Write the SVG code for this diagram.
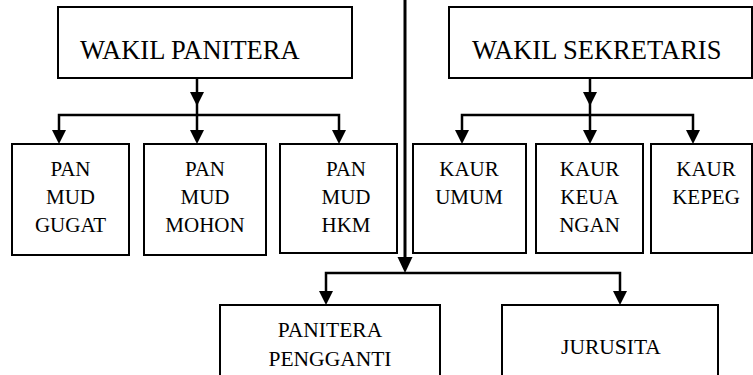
<svg xmlns="http://www.w3.org/2000/svg" xmlns:xlink="http://www.w3.org/1999/xlink" width="753" height="375" viewBox="0 0 753 375">
<style>
.box{fill:#fff;stroke:#000;stroke-width:2}
text{font-family:'Liberation Serif','Times New Roman',Times,serif;fill:#000;text-anchor:middle}
.big{font-size:26.5px;text-anchor:start}
.mid{font-size:21px}
.bot{font-size:21.5px}
.ln{fill:none;stroke:#000;stroke-width:2.5}
</style>
<defs>
<path id="ah" d="M-7,-14 L7,-14 L0,0 Z" fill="#000"/>
<path id="ahb" d="M-7.5,-16 L7.5,-16 L0,0 Z" fill="#000"/>
</defs>
<rect width="753" height="375" fill="#fff"/>
<g id="connectors">
<path class="ln" d="M197,78 V132"/>
<path class="ln" d="M59,132 V115 H339 V132"/>
<path class="ln" d="M590,78 V132"/>
<path class="ln" d="M462,132 V115 H693 V132"/>
<path class="ln" style="stroke-width:3" d="M405,0 V262"/>
<path class="ln" d="M326,294 V273 H620 V294"/>
<use xlink:href="#ah" x="197" y="106"/>
<use xlink:href="#ah" x="59" y="144"/>
<use xlink:href="#ah" x="197" y="144"/>
<use xlink:href="#ah" x="339" y="144"/>
<use xlink:href="#ah" x="590" y="106"/>
<use xlink:href="#ah" x="462" y="144"/>
<use xlink:href="#ah" x="590" y="144"/>
<use xlink:href="#ah" x="693" y="144"/>
<use xlink:href="#ahb" x="405" y="273"/>
<use xlink:href="#ah" x="326" y="305"/>
<use xlink:href="#ah" x="620" y="305"/>
</g>
<g id="wakil-panitera">
<rect class="box" x="58" y="7" width="294" height="71"/>
<text class="big" x="80" y="59">WAKIL PANITERA</text>
</g>
<g id="wakil-sekretaris">
<rect class="box" x="449" y="7" width="303" height="71"/>
<text class="big" x="472" y="59">WAKIL SEKRETARIS</text>
</g>
<g id="panmud-gugat">
<rect class="box" x="12" y="144" width="117" height="111"/>
<text class="mid" x="70.5" y="176">PAN</text>
<text class="mid" x="70.5" y="204">MUD</text>
<text class="mid" x="70.5" y="232">GUGAT</text>
</g>
<g id="panmud-mohon">
<rect class="box" x="144" y="144" width="122" height="111"/>
<text class="mid" x="205" y="176">PAN</text>
<text class="mid" x="205" y="204">MUD</text>
<text class="mid" x="205" y="232">MOHON</text>
</g>
<g id="panmud-hkm">
<rect class="box" x="280" y="144" width="117" height="109"/>
<text class="mid" x="346" y="176">PAN</text>
<text class="mid" x="346" y="204">MUD</text>
<text class="mid" x="346" y="232">HKM</text>
</g>
<g id="kaur-umum">
<rect class="box" x="413" y="144" width="113" height="109"/>
<text class="mid" x="469" y="176">KAUR</text>
<text class="mid" x="469" y="204">UMUM</text>
</g>
<g id="kaur-keuangan">
<rect class="box" x="536" y="144" width="107" height="109"/>
<text class="mid" x="589.5" y="176">KAUR</text>
<text class="mid" x="589.5" y="204">KEUA</text>
<text class="mid" x="589.5" y="232">NGAN</text>
</g>
<g id="kaur-kepeg">
<rect class="box" x="651" y="144" width="101" height="109"/>
<text class="mid" x="706" y="176">KAUR</text>
<text class="mid" x="706" y="204">KEPEG</text>
</g>
<g id="panitera-pengganti">
<rect class="box" x="220" y="305" width="220" height="80"/>
<text class="bot" x="330" y="337">PANITERA</text>
<text class="bot" x="330" y="366">PENGGANTI</text>
</g>
<g id="jurusita">
<rect class="box" x="502" y="305" width="216" height="80"/>
<text class="bot" x="611" y="354">JURUSITA</text>
</g>
</svg>
